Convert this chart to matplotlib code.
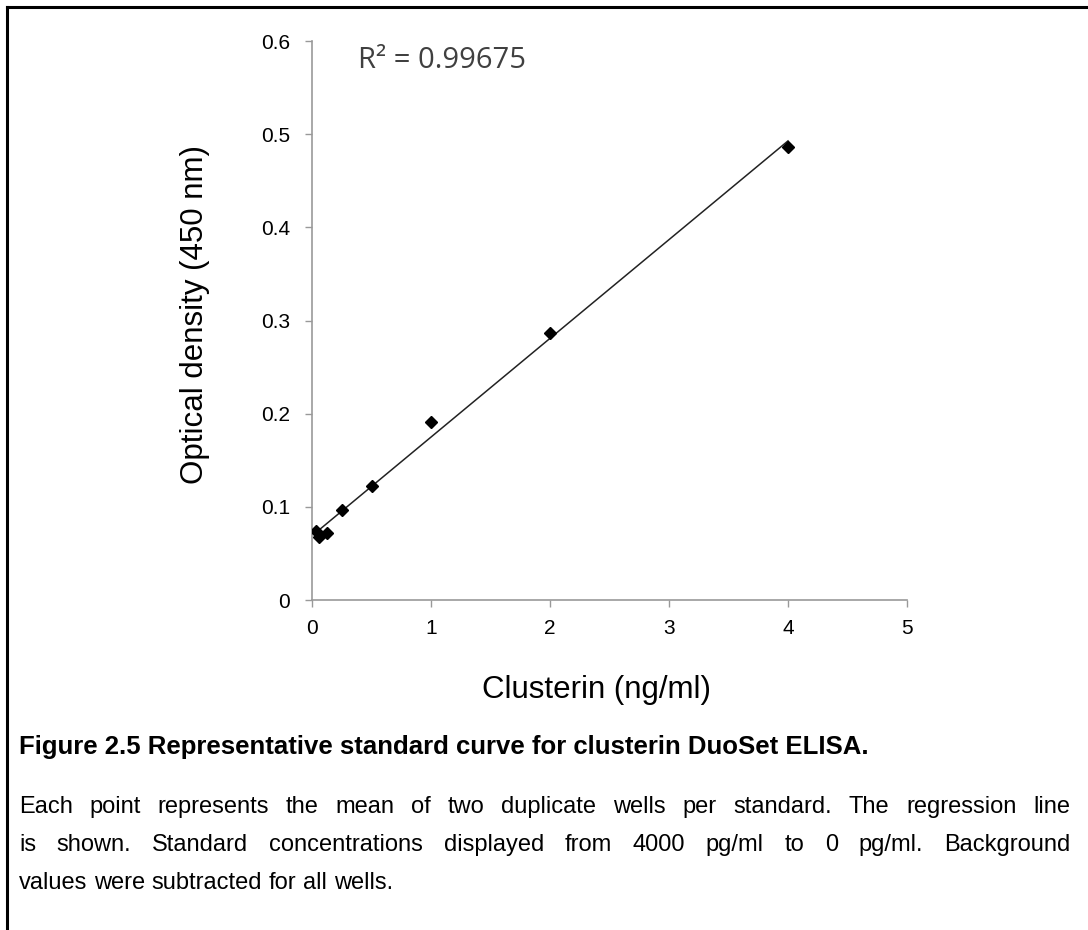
import numpy as np
import matplotlib
matplotlib.use("Agg")
from matplotlib import pyplot as plt

# standards (ng/ml) and mean optical density
conc = [0.03125, 0.0625, 0.125, 0.25, 0.5, 1, 2, 4]
od = [0.0736, 0.068, 0.0718, 0.0962, 0.122, 0.191, 0.287, 0.486]
r2_text = "R² = 0.99675"

x_ticks = [0, 1, 2, 3, 4, 5]
y_ticks = [0, 0.1, 0.2, 0.3, 0.4, 0.5, 0.6]
y_tick_labels = ["0", "0.1", "0.2", "0.3", "0.4", "0.5", "0.6"]

caption_title = "Figure 2.5 Representative standard curve for clusterin DuoSet ELISA."
caption_lines = [
    "Each point represents the mean of two duplicate wells per standard. The regression line",
    "is shown. Standard concentrations displayed from 4000 pg/ml to 0 pg/ml. Background",
    "values were subtracted for all wells.",
]

plt.rcParams['font.family'] = ['Liberation Sans', 'DejaVu Sans']

fig = plt.figure(figsize=(10.88, 9.30), dpi=100)
ax = fig.add_axes([312 / 1088, 1 - 600 / 930, 595 / 1088, 559 / 930])

# regression line over the standards
slope, icpt = np.polyfit(conc, od, 1)
xs = np.array([min(conc), max(conc)])
ax.plot(xs, slope * xs + icpt, color='#222222', lw=1.1, zorder=2)
ax.plot(conc, od, linestyle='none', marker='D', ms=6.5, color='black', zorder=3)

ax.set_xlim(0, 5)
ax.set_ylim(0, 0.6)
ax.set_xticks(x_ticks)
ax.set_yticks(y_ticks)
ax.set_yticklabels(y_tick_labels)
for s in ['top', 'right']:
    ax.spines[s].set_visible(False)
for s in ['left', 'bottom']:
    ax.spines[s].set_color('#999999')
    ax.spines[s].set_linewidth(1.2)
ax.tick_params(axis='both', direction='out', length=5, width=1, color='#999999',
               labelsize=15, labelcolor='black')
ax.tick_params(axis='y', pad=11)
ax.tick_params(axis='x', pad=9)

ax.text(0.078, 0.965, r2_text, transform=ax.transAxes, fontsize=21,
        color='#404040', family=['Open Sans', 'DejaVu Sans'], va='center')

fig.text(195 / 1088, 1 - 315 / 930, "Optical density (450 nm)", rotation=90,
         fontsize=22.5, ha='center', va='center')
fig.text(597 / 1088, 1 - 690 / 930, "Clusterin (ng/ml)", fontsize=22.5,
         ha='center', va='center')

# caption
x0, x1 = 19 / 1088, 1070 / 1088
cap_fs = 17
r = fig.canvas.get_renderer()

fig.text(x0, 1 - 747 / 930, caption_title, fontsize=18.5, fontweight='bold',
         va='center')


def justified(line, y, last=False):
    words = line.split()
    texts = [fig.text(0, y, w, fontsize=cap_fs, va='center') for w in words]
    widths = [t.get_window_extent(r).width / fig.bbox.width for t in texts]
    if last:
        sp = fig.text(0, y, "a a", fontsize=cap_fs)
        a = fig.text(0, y, "aa", fontsize=cap_fs)
        gap = (sp.get_window_extent(r).width - a.get_window_extent(r).width) / fig.bbox.width
        sp.remove()
        a.remove()
    else:
        gap = (x1 - x0 - sum(widths)) / (len(words) - 1)
    x = x0
    for t, w in zip(texts, widths):
        t.set_x(x)
        x += w + gap


for i, line in enumerate(caption_lines):
    justified(line, 1 - (807 + 38 * i) / 930, last=(i == len(caption_lines) - 1))

# partial frame: top and left edges
fig.add_artist(plt.Line2D([7 / 1088, 1], [1 - 7 / 930, 1 - 7 / 930], color='black', lw=2.2))
fig.add_artist(plt.Line2D([7 / 1088, 7 / 1088], [0, 1 - 7 / 930], color='black', lw=2.2))

fig.savefig("out.png", dpi=100)
